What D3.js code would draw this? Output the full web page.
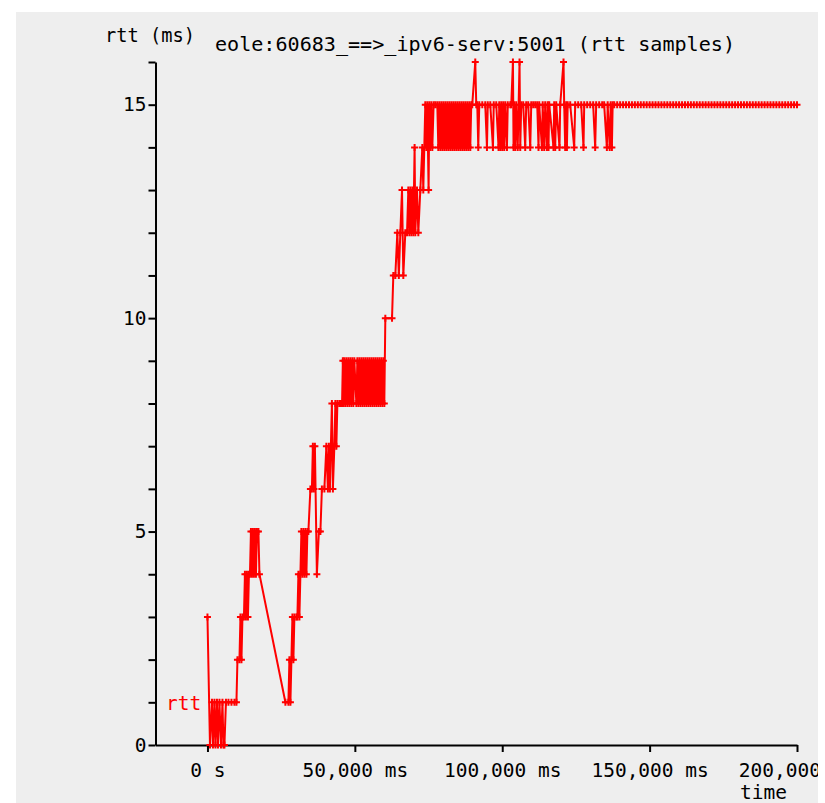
<!DOCTYPE html>
<html>
<head>
<meta charset="utf-8">
<script src="https://cdn.jsdelivr.net/npm/d3@7"></script>
<style>
  html, body { margin: 0; padding: 0; background: #ffffff; }
  svg { display: block; }
</style>
</head>
<body>
<div id="chart"></div>
<script>
// ---------------- data ----------------
const titleText = "eole:60683_==>_ipv6-serv:5001 (rtt samples)";
const yAxisTitle = "rtt (ms)";
const xAxisTitle = "time";
const seriesName = "rtt";

const yTicks = [0,1,2,3,4,5,6,7,8,9,10,11,12,13,14,15,16];
const yTickLabels = [0,5,10,15];
const xTicks = [0, 50000, 100000, 150000, 200000];
const xTickLabels = ["0 s", "50,000 ms", "100,000 ms", "150,000 ms", "200,000 ms"];
const xDomain = [-17630, 200000];
const yDomain = [0, 16];

// [time (ms), rtt (ms)] samples
const startupSamples = [
  [0,3],[850,0],[1530,1],[1860,0],[2370,1],[2710,0],[3220,1],[3560,0],[4070,1],[4580,0],
  [5090,1],[5420,0],[5760,0],[6270,1],[7120,1],[8140,1],[9150,1],[9830,1],[10170,2],[10850,2],
  [11190,3],[11530,2],[11870,3],[12370,3],[12710,4],[13050,3],[13390,4],[13730,3],[14070,4],[14410,4],
  [14750,5],[15090,4],[15420,5],[15760,4],[16100,5],[16440,4],[16780,5],[17290,5],[17630,4]
];
const rampSamples = [
  [26440,1],[27460,1],[27800,2],[28140,1],[28480,2],[28820,3],[29150,2],[29490,3],[30170,3],[30510,3],
  [30850,4],[31190,3],[31530,4],[31870,5],[32210,4],[32540,5],[32880,4],[33220,5],[33560,4],[33900,5],
  [34240,5],[34920,6],[35430,6],[35760,7],[36100,6],[36440,7],[37120,4],[37800,5],[38310,5],[38820,6],
  [39660,6],[40340,7],[40850,6],[41190,7],[41530,6],[41870,7],[42210,8],[42550,6],[43050,7],[43390,8],
  [43730,7],[44070,8],[44750,8],[45260,8]
];
const plateauSamples = [
  [45660,8],[45930,9],[46200,8],[46440,9],[46780,8],[47120,9],[47460,8],[47800,9],[48140,8],[48480,9],
  [48820,8],[49150,9],[49490,8],[49830,9],[50510,8],[50850,9],[51190,8],[51530,9],[51870,8],[52210,9],
  [52550,8],[52880,9],[53220,8],[53560,9],[53900,8],[54240,9],[54580,8],[54920,9],[55260,8],[55600,9],
  [55940,8],[56270,9],[56610,8],[56950,9],[57290,8],[57630,9],[57970,8],[58310,9],[58650,8],[58990,9],
  [59330,8],[59660,9],[60000,8],[60340,10],[62610,10]
];
const climbSamples = [
  [63050,11],[63730,11],[64410,12],[64920,11],[65430,12],[66000,13],[66440,11],[67120,12],[67700,12],[68140,13],
  [68480,12],[68820,13],[69160,12],[69500,13],[69830,12],[70270,14],[70510,12],[71090,13],[71530,12],[72210,13],
  [72890,14],[73220,13],[73900,15],[74240,14],[74580,15],[75020,13],[75260,15],[75600,14],[75940,15],[76280,14],
  [76720,15],[77290,15],[77970,15],[78310,14],[78650,15]
];
const busySamples = [
  [78990,14],[79330,15],[79670,14],[80000,15],[80340,14],[80680,15],[81020,14],[81360,15],[81700,14],[82040,15],
  [82380,14],[82720,15],[83060,14],[83390,15],[83730,14],[84070,15],[84410,14],[84750,15],[85090,14],[85430,15],
  [85770,14],[86110,15],[86450,14],[86780,15],[87120,14],[87460,15],[87800,14],[88140,15],[88480,14],[88820,15],
  [89160,14],[89490,15],[89830,15],[90850,16],[91190,15],[91530,15],[91870,14],[92210,15],[93230,15],[94240,15],
  [94820,14],[95090,15],[95940,15],[96850,14],[97120,15],[97970,15],[98750,14],[98990,15],[99330,14],[99670,15],
  [100000,14],[100340,15],[100680,14],[101020,15],[101600,14],[101870,15],[102720,15],[103060,15],[103630,16],[103840,14],
  [104070,15],[104410,14],[104750,15],[105250,14],[105870,16],[106110,14],[106450,15],[107120,15],[107800,14],[108140,15],
  [108820,15],[109500,14],[109840,15],[110510,15],[111190,15],[111870,15],[112310,14],[112550,15],[113460,14],[113730,15],
  [114240,14],[114580,15],[115160,14],[115430,15],[115700,14],[115940,15],[117400,14],[117630,15],[117970,14],[118310,15],
  [119430,14],[119670,15],[120790,16],[121020,15],[121360,14],[121700,15],[121940,14],[122210,15],[123060,15],[124410,14],
  [124750,15],[125770,15],[126790,15],[127570,14],[127810,15],[128820,15],[129840,15],[130850,15],[131530,14],[131870,15],
  [132890,15],[133910,15],[134580,15],[135500,14],[135770,15],[136450,14],[136790,15],[137200,14],[137460,15]
];
const steadySamples = [
  [138000,15],[139000,15],[140000,15],[141000,15],[142000,15],[143000,15],[144000,15],[145000,15],[146000,15],[147000,15],
  [148000,15],[149000,15],[150000,15],[151000,15],[152000,15],[153000,15],[154000,15],[155000,15],[156000,15],[157000,15],
  [158000,15],[159000,15],[160000,15],[161000,15],[162000,15],[163000,15],[164000,15],[165000,15],[166000,15],[167000,15],
  [168000,15],[169000,15],[170000,15],[171000,15],[172000,15],[173000,15],[174000,15],[175000,15],[176000,15],[177000,15],
  [178000,15],[179000,15],[180000,15],[181000,15],[182000,15],[183000,15],[184000,15],[185000,15],[186000,15],[187000,15],
  [188000,15],[189000,15],[190000,15],[191000,15],[192000,15],[193000,15],[194000,15],[195000,15],[196000,15],[197000,15],
  [198000,15],[199000,15],[200000,15]
];

const samples = [].concat(startupSamples, rampSamples, plateauSamples, climbSamples, busySamples, steadySamples);

// ---------------- drawing ----------------
const W = 825, H = 803;
const FONT = "'DejaVu Sans Mono', monospace";
const FS = 19.5;
const RED = "#ff0000";

const svg = d3.select("#chart").append("svg")
  .attr("width", W).attr("height", H);

svg.append("rect").attr("width", W).attr("height", H).attr("fill", "#ffffff");

const clip = svg.append("defs").append("clipPath").attr("id", "panel");
clip.append("rect").attr("x", 16).attr("y", 12).attr("width", 802).attr("height", 791);

const g = svg.append("g").attr("clip-path", "url(#panel)");
g.append("rect").attr("x", 16).attr("y", 12).attr("width", 802).attr("height", 791).attr("fill", "#eeeeee");

const x = d3.scaleLinear().domain(xDomain).range([155.5, 797]);
const y = d3.scaleLinear().domain(yDomain).range([745, 62]);

// axes
const yAxis = g.append("g")
  .attr("transform", `translate(${x(xDomain[0])},0)`)
  .call(d3.axisLeft(y).tickValues(yTicks).tickSize(7).tickSizeOuter(0)
    .tickFormat(d => yTickLabels.includes(d) ? String(d) : ""));

const xAxis = g.append("g")
  .attr("transform", `translate(0,${y(0)})`)
  .call(d3.axisBottom(x).tickValues(xTicks).tickSize(7).tickSizeOuter(0)
    .tickFormat((d, i) => xTickLabels[i]));

[yAxis, xAxis].forEach(a => {
  a.attr("font-family", FONT).attr("font-size", FS);
  a.selectAll("path, line").attr("stroke", "#000").attr("stroke-width", 2);
  a.selectAll("text").attr("fill", "#000");
});
xAxis.selectAll("text").attr("y", 18);
yAxis.selectAll("text").attr("x", -9);

// series line
const line = d3.line().x(d => x(d[0])).y(d => y(d[1]));
g.append("path").datum(samples)
  .attr("d", line)
  .attr("fill", "none")
  .attr("stroke", RED)
  .attr("stroke-width", 2)
  .attr("stroke-linejoin", "miter");

// markers (+)
g.append("g").selectAll("path").data(samples).join("path")
  .attr("d", d => {
    const px = x(d[0]), py = y(d[1]);
    return `M${px - 3.5},${py}h7M${px},${py - 3.5}v7`;
  })
  .attr("stroke", RED)
  .attr("stroke-width", 2)
  .attr("fill", "none");

// texts
g.append("text").attr("x", 105).attr("y", 42).text(yAxisTitle)
  .attr("font-family", FONT).attr("font-size", FS).attr("fill", "#000")
  .attr("textLength", 90).attr("lengthAdjust", "spacingAndGlyphs");
g.append("text").attr("x", 215).attr("y", 51).text(titleText)
  .attr("font-family", FONT).attr("font-size", FS).attr("fill", "#000")
  .attr("textLength", 520).attr("lengthAdjust", "spacingAndGlyphs");
g.append("text").attr("x", 740).attr("y", 799).text(xAxisTitle)
  .attr("font-family", FONT).attr("font-size", FS).attr("fill", "#000");
g.append("text").attr("x", 166).attr("y", y(1) + 8).text(seriesName)
  .attr("font-family", FONT).attr("font-size", FS).attr("fill", RED);
</script>
</body>
</html>
